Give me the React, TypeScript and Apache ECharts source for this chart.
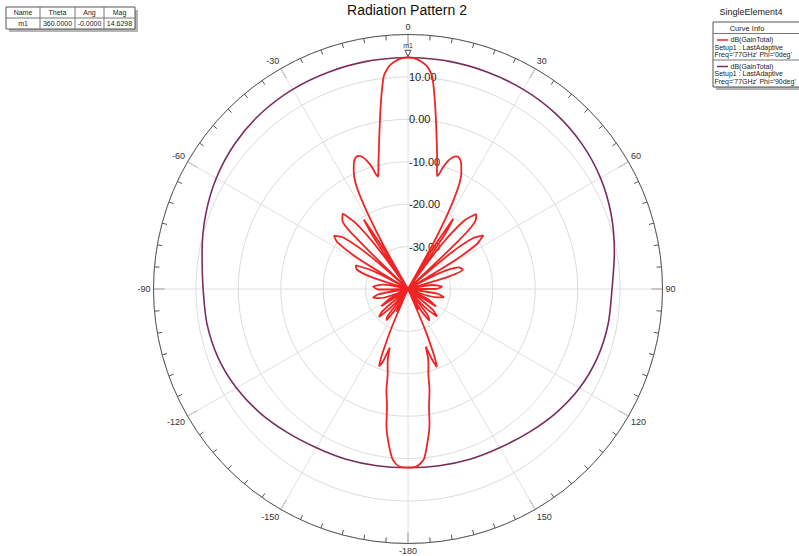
import React, { useEffect, useRef } from "react";
import * as echarts from "echarts";

// ---- Data (gain in dB vs theta in degrees) ----
// Red curve: Phi = 0deg. Right half (theta > 0) and left half (theta < 0, stored as magnitude)
const redRightDeg = [0, 1.5, 3.2, 4.5, 5.5, 6.5, 7.4, 8.4, 9.5, 10.6, 11.7, 13.0, 13.8, 14.4, 15.1, 16.0, 17.3, 18.8, 20.2, 21.5, 23.0, 24.6, 26.0, 27.0, 28.0, 29.0, 30.0, 31.5, 32.8, 34.0, 35.2, 37, 39.5, 42.3, 44.5, 46.3, 47.8, 50, 52, 54.5, 56.8, 58.6, 60.2, 63, 67, 70.5, 73, 75.5, 81, 86, 90, 94, 99, 103, 107, 111, 117, 122, 126, 130, 133.5, 137, 140, 143, 146, 148.5, 151, 153.5, 155.5, 157.2, 158.7, 159.7, 161.2, 162.8, 164.5, 166.4, 168, 169.8, 171, 172.5, 174.5, 176, 177.5, 180];
const redRightDb = [14.63, 14.45, 13.8, 13.0, 12.0, 10.4, 7.4, 3.8, 0.0, -3.4, -6.3, -9.5, -11.4, -12.5, -12.0, -10.2, -8.4, -7.2, -6.7, -6.9, -7.9, -9.8, -12.4, -16, -21, -28.5, -40, -29, -20.3, -24.5, -40, -27, -19, -16.1, -17.2, -23, -40, -27, -20.5, -18.2, -20.5, -27, -40, -32, -27, -26.3, -30, -40, -34, -32, -33.5, -40, -33, -31.3, -33.5, -40, -35, -32.2, -40, -32.5, -30.6, -34, -40, -32.3, -31, -34, -40, -34.5, -40, -29.5, -22.5, -20.4, -22.5, -25.8, -22, -19.6, -15.6, -12.0, -7.6, -4.1, 0.1, 1.3, 1.95, 2.1];
const redLeftDeg = [0, 1.5, 3.2, 4.5, 5.5, 6.5, 7.4, 8.4, 9.6, 10.7, 11.8, 13.2, 14.2, 14.9, 15.6, 16.5, 17.8, 19.2, 20.5, 21.8, 23.2, 24.8, 26.3, 27.3, 28.2, 29.3, 30.2, 31.2, 32.5, 33.6, 34.8, 36.5, 38.5, 41, 43.5, 45.5, 47, 49, 51.5, 54.3, 56.5, 58.5, 60, 62.5, 65.5, 69, 72, 74, 80, 86, 91, 95, 100, 104, 108, 112, 118, 123, 127, 131, 134, 137, 140, 143, 145.5, 148, 151, 153, 155, 157, 158.5, 159.5, 161, 162.7, 164.5, 166.5, 168, 169.8, 171, 172.5, 174.6, 176, 177.5, 180];
const redLeftDb = [14.63, 14.45, 13.8, 13.0, 12.0, 10.5, 7.5, 4.0, -0.2, -3.5, -6.4, -9.5, -11.5, -12.6, -12.0, -10.0, -8.2, -7.0, -6.5, -6.7, -7.6, -9.5, -12.0, -15.5, -20.4, -28.3, -40, -30, -20.6, -25, -40, -28, -20, -16.5, -17.5, -23, -40, -28, -20.5, -18.5, -20, -26, -40, -31, -26.5, -27, -31, -40, -34, -31.8, -33, -40, -33, -31.5, -33, -40, -35, -32.5, -40, -32, -30.5, -34, -40, -32, -31, -34, -40, -34, -40, -30, -23, -20.5, -22, -25.5, -22, -19.5, -15.5, -12, -7.5, -4, 0, 1.3, 2.0, 2.1];

// Purple curve: Phi = 90deg
const purpleDeg = [0, 10, 20, 30, 40, 50, 60, 70, 80, 90, 100, 110, 120, 130, 140, 150, 160, 170, 180];
const purpleRightDb = [14.63, 14.55, 14.45, 14.35, 14.05, 13.4, 12.4, 11.0, 9.4, 8.1, 7.9, 7.5, 6.7, 5.5, 4.2, 3.2, 2.7, 2.3, 2.1];
const purpleLeftDb = [14.63, 14.55, 14.45, 14.35, 14.0, 13.3, 12.2, 10.8, 9.3, 8.3, 8.1, 7.6, 6.7, 5.5, 4.2, 3.2, 2.7, 2.3, 2.1];

// Axis settings
const radialMin = -40;
const radialMax = 20;
const radialStep = 10;
const angleStep = 30;

const markerName = "m1";
const markerTheta = 0;
const markerMag = 14.6298;
const tableHeader = ["Name", "Theta", "Ang", "Mag"];
const tableRow = ["m1", "360.0000", "-0.0000", "14.6298"];

const chartTitle = "Radiation Pattern 2";
const designName = "SingleElement4";
const curveInfoTitle = "Curve Info";
const curveNames = ["dB(GainTotal)", "dB(GainTotal)"];
const curveSetup = ["Setup1 : LastAdaptive", "Setup1 : LastAdaptive"];
const curveFreq = ["Freq='77GHz' Phi='0deg'", "Freq='77GHz' Phi='90deg'"];

const RED = "#f02424";
const PURPLE = "#7a2d5e";
const FONT = "Arial, 'Liberation Sans', sans-serif";

function buildCurve(rightDeg: number[], rightDb: number[], leftDeg: number[], leftDb: number[]) {
  const pts: number[][] = [];
  rightDeg.forEach((a, i) => pts.push([rightDb[i], a]));
  for (let i = leftDeg.length - 1; i >= 0; i--) pts.push([leftDb[i], 360 - leftDeg[i]]);
  return pts;
}

export default function App() {
  const ref = useRef<HTMLDivElement>(null);
  useEffect(() => {
    if (!ref.current) return;
    const chart = echarts.init(ref.current, null, { renderer: "svg" });
    const red = buildCurve(redRightDeg, redRightDb, redLeftDeg, redLeftDb);
    const purple = buildCurve(purpleDeg, purpleRightDb, purpleDeg, purpleLeftDb);

    const colX = [6, 40, 75, 104, 135];
    const rowY = [7, 18, 29];
    const tableEls: any[] = [];
    tableEls.push({ type: "rect", shape: { x: colX[0] + 3, y: rowY[0] + 3, width: colX[4] - colX[0], height: rowY[2] - rowY[0] }, style: { fill: "#b4b4b4" } });
    tableEls.push({ type: "rect", shape: { x: colX[0], y: rowY[0], width: colX[4] - colX[0], height: rowY[2] - rowY[0] }, style: { fill: "#fff", stroke: "#555", lineWidth: 1 } });
    tableEls.push({ type: "line", shape: { x1: colX[0], y1: rowY[1], x2: colX[4], y2: rowY[1] }, style: { stroke: "#777", lineWidth: 1 } });
    for (let c = 1; c < 4; c++) {
      tableEls.push({ type: "line", shape: { x1: colX[c], y1: rowY[0], x2: colX[c], y2: rowY[2] }, style: { stroke: "#777", lineWidth: 1 } });
    }
    for (let c = 0; c < 4; c++) {
      const cx = (colX[c] + colX[c + 1]) / 2;
      tableEls.push({ type: "text", x: cx, y: (rowY[0] + rowY[1]) / 2, style: { text: tableHeader[c], fontSize: 7, fontFamily: FONT, fill: "#222", align: "center", verticalAlign: "middle" } });
      tableEls.push({ type: "text", x: cx, y: (rowY[1] + rowY[2]) / 2, style: { text: tableRow[c], fontSize: 7, fontFamily: FONT, fill: "#222", align: "center", verticalAlign: "middle" } });
    }

    const lx = 713;
    const legendEls: any[] = [
      { type: "text", x: 751, y: 12, style: { text: designName, fontSize: 9, fontFamily: FONT, fill: "#222", align: "center", verticalAlign: "middle" } },
      { type: "rect", shape: { x: lx + 3, y: 25, width: 100, height: 65 }, style: { fill: "#b4b4b4" } },
      { type: "rect", shape: { x: lx, y: 22, width: 100, height: 65 }, style: { fill: "#fff", stroke: "#555", lineWidth: 1 } },
      { type: "line", shape: { x1: lx, y1: 33.5, x2: lx + 100, y2: 33.5 }, style: { stroke: "#777", lineWidth: 1 } },
      { type: "line", shape: { x1: lx, y1: 60, x2: lx + 100, y2: 60 }, style: { stroke: "#777", lineWidth: 1 } },
      { type: "text", x: 747, y: 28, style: { text: curveInfoTitle, fontSize: 7.5, fontFamily: FONT, fill: "#222", align: "center", verticalAlign: "middle" } },
    ];
    const colors = [RED, PURPLE];
    [0, 1].forEach((k) => {
      const y0 = k === 0 ? 40 : 66.5;
      legendEls.push({ type: "line", shape: { x1: 717, y1: y0, x2: 728, y2: y0 }, style: { stroke: colors[k], lineWidth: 1.5 } });
      legendEls.push({
        type: "text",
        x: 714.5,
        y: y0 - 3.7,
        style: {
          text: `{a|${curveNames[k]}}\n${curveSetup[k]}\n${curveFreq[k]}`,
          fontSize: 7,
          lineHeight: 7.4,
          fontFamily: FONT,
          fill: "#222",
          align: "left",
          verticalAlign: "top",
          rich: { a: { padding: [0, 0, 0, 16], fontSize: 7, lineHeight: 7.4, fontFamily: FONT, fill: "#222" } },
        },
      });
    });

    chart.setOption({
      animation: false,
      title: {
        text: chartTitle,
        left: 407,
        top: 3,
        padding: 0,
        textAlign: "center",
        textStyle: { fontSize: 14, fontWeight: "normal", color: "#111", fontFamily: FONT },
      },
      polar: { center: [408, 289], radius: 254.5 },
      angleAxis: {
        type: "value",
        min: 0,
        max: 360,
        interval: angleStep,
        startAngle: 90,
        clockwise: true,
        axisLine: { show: true, lineStyle: { color: "#555", width: 1 } },
        axisTick: { show: true, inside: true, length: 11, lineStyle: { color: "#555", width: 1 } },
        minorTick: { show: true, splitNumber: 6, length: 5, lineStyle: { color: "#555", width: 1 } },
        axisLabel: {
          margin: 3,
          fontSize: 9,
          color: "#333",
          fontFamily: FONT,
          formatter: (v: number) => (v === 360 ? "" : String(v >= 180 ? v - 360 : v)),
        },
        splitLine: { show: true, lineStyle: { color: "#e0e0e0", width: 1 } },
      },
      radiusAxis: {
        type: "value",
        min: radialMin,
        max: radialMax,
        interval: radialStep,
        axisLine: { show: false },
        axisTick: { show: false },
        axisLabel: {
          margin: -1,
          align: "left",
          verticalAlign: "middle",
          padding: [0, 0, 5, 0],
          fontSize: 11,
          color: "#222",
          fontFamily: FONT,
          formatter: (v: number) => (v === radialMin || v === radialMax ? "" : v.toFixed(2)),
        },
        splitLine: { show: true, lineStyle: { color: "#dcdcdc", width: 1 } },
      },
      series: [
        {
          type: "line",
          coordinateSystem: "polar",
          data: purple,
          smooth: 0.3,
          symbol: "none",
          lineStyle: { color: PURPLE, width: 1.6 },
          z: 3,
        },
        {
          type: "line",
          coordinateSystem: "polar",
          data: red,
          smooth: 0.25,
          symbol: "none",
          lineStyle: { color: RED, width: 1.8 },
          z: 4,
          markPoint: {
            symbol: "triangle",
            symbolRotate: 180,
            symbolSize: 6,
            symbolOffset: [0, -4],
            itemStyle: { color: "#fff", borderColor: "#444", borderWidth: 1 },
            label: { show: true, position: "top", distance: 1, formatter: markerName, fontSize: 7, color: "#333", fontFamily: FONT },
            data: [{ coord: [markerMag, markerTheta] }],
          },
        },
      ],
      graphic: [...tableEls, ...legendEls],
    });
    return () => chart.dispose();
  }, []);
  return <div ref={ref} style={{ position: "absolute", left: 0, top: 0, width: 799, height: 556 }} />;
}
